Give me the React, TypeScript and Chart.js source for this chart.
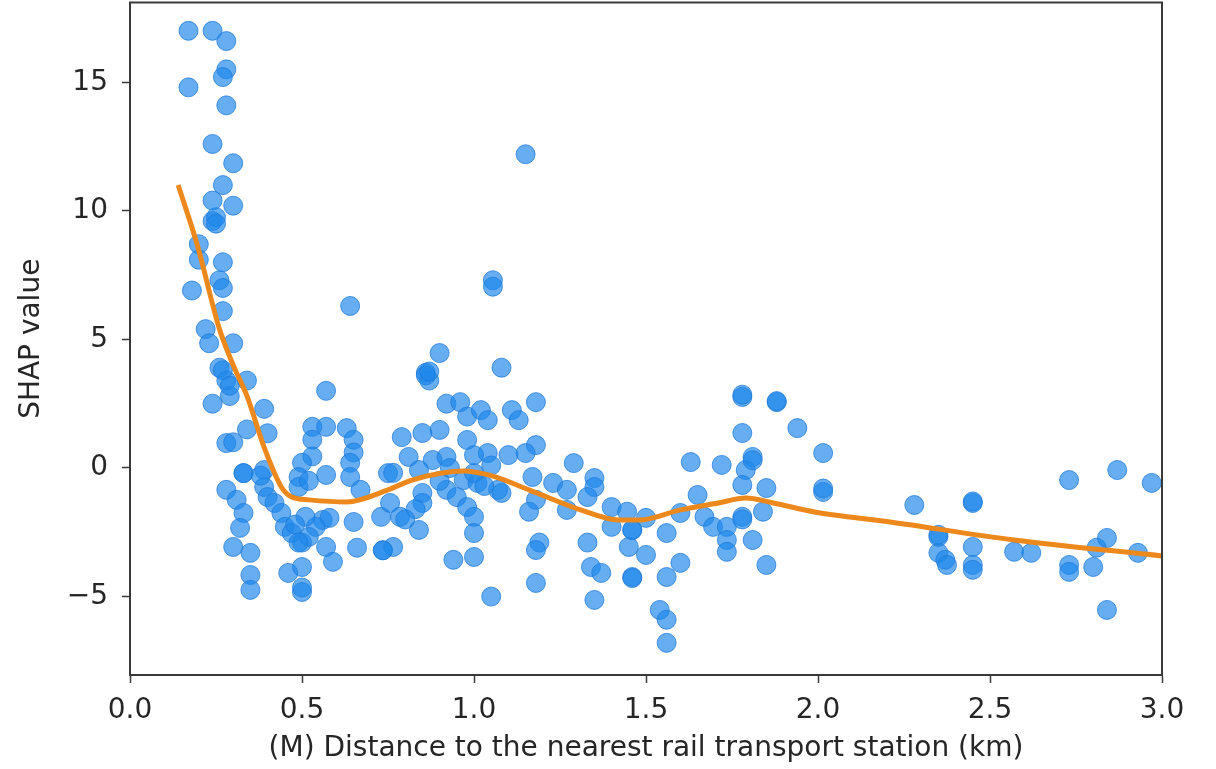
import React, { useEffect, useRef } from "react";
import { Chart, registerables } from "chart.js";

Chart.register(...registerables);

// Scatter points: distance (km) and SHAP value
const pointX: number[] = [
  0.17, 0.24, 0.28, 0.17, 0.28, 0.27, 0.28, 0.24, 0.30, 0.27, 0.24, 0.30, 0.24, 0.25, 0.25,
  0.20, 0.18, 0.27, 0.20, 0.26, 0.27, 0.27, 0.22, 0.64,
  0.23, 0.30, 0.26, 0.28, 0.34, 0.29, 0.24, 0.57, 0.39, 0.34, 0.40, 0.28, 0.53, 0.57, 0.63, 0.65,
  0.65, 0.53, 0.53, 0.57, 0.33, 0.50, 0.49, 0.49, 0.39, 0.64, 0.64, 0.67, 0.75, 0.28, 0.31, 0.33,
  0.32, 0.30, 0.35, 0.35, 0.35, 0.39, 0.40, 0.42, 0.44, 0.45, 0.47, 0.50, 0.46, 0.50, 0.50, 0.56,
  0.58, 0.57, 0.59, 0.65, 0.66, 0.735, 0.73, 0.54, 0.52,
  0.27, 0.29, 0.33, 0.50, 0.30, 0.38, 0.52, 0.51, 0.48, 0.49,
  0.90, 0.86, 0.87, 1.08, 0.92, 0.96, 0.98, 1.02, 1.04, 1.11, 1.13, 1.18, 0.79, 0.85, 0.90, 0.98,
  1.18, 1.15, 1.10, 1.04, 0.81, 0.88, 0.92, 0.765, 0.84, 0.97, 1.01, 1.08, 0.85, 0.92, 1.29, 1.35,
  1.35, 1.17, 1.23, 1.27, 1.18, 1.16, 1.27, 1.33, 1.40, 1.445, 1.40, 1.46, 0.756, 0.785, 0.85, 0.84,
  0.765, 0.735, 0.95, 0.98, 1.00, 1.00, 1.07, 0.94, 1.00, 1.19, 1.18, 1.33, 1.34, 1.37, 1.18, 1.35,
  1.05, 1.45, 1.46,
  0.86, 0.87, 1.00, 1.03, 0.83, 0.80, 0.90, 0.93, 1.00, 1.05,
  1.15, 1.055, 1.055,
  1.78, 1.88, 1.78, 1.94, 2.015, 2.015, 1.63, 1.72, 1.81, 1.79, 1.78, 1.85, 1.65, 1.60, 1.50, 1.67,
  1.695, 1.735, 1.735, 1.735, 1.78, 1.84, 1.81, 1.85, 1.56, 1.50, 1.60, 1.56, 1.46, 1.54, 1.56, 1.56,
  1.46, 1.78, 1.88, 1.81, 2.015, 1.78,
  2.28, 2.45, 2.35, 2.35, 2.37, 2.375, 2.45, 2.45, 2.45, 2.57, 2.62, 2.73, 2.73, 2.73, 2.80, 2.81,
  2.84, 2.84, 2.87, 2.93, 2.97, 2.45, 2.35,
];

const pointY: number[] = [
  17.0, 17.0, 16.6, 14.8, 15.5, 15.2, 14.1, 12.6, 11.85, 11.0, 10.4, 10.2, 9.6, 9.75, 9.5,
  8.7, 6.9, 8.0, 8.1, 7.3, 7.0, 6.1, 5.4, 6.3,
  4.85, 4.85, 3.9, 3.4, 3.4, 2.8, 2.5, 3.0, 2.3, 1.5, 1.35, 0.97, 1.6, 1.6, 1.55, 1.1,
  0.6, 1.1, 0.45, -0.27, -0.2, 0.2, -0.35, -0.74, -0.08, 0.2, -0.35, -0.85, -0.2, -0.85, -1.24, -1.75,
  -2.33, -3.07, -3.3, -4.16, -4.74, -0.74, -1.13, -1.36, -1.75, -2.29, -2.53, -2.9, -4.08, -3.85, -4.82, -2.02,
  -1.94, -3.07, -3.65, -2.1, -3.1, -3.2, -1.9, -2.29, -2.68,
  3.8, 3.2, -0.2, -4.65, 1.0, -0.3, -0.5, -1.9, -2.2, -2.9,
  4.47, 3.7, 3.4, 3.9, 2.5, 2.56, 2.0, 2.25, 1.86, 2.25, 1.86, 2.56, 1.2, 1.36, 1.48, 1.09,
  0.89, 0.58, 0.5, 0.58, 0.43, 0.31, 0.43, -0.19, -0.08, -0.47, -0.58, -0.97, -0.97, -0.85, 0.19, -0.39,
  -0.74, -0.35, -0.58, -0.85, -1.24, -1.7, -1.63, -1.13, -1.52, -1.7, -2.29, -2.41, -1.36, -1.9, -1.36, -2.41,
  -3.07, -3.2, -1.13, -1.52, -1.9, -2.53, -0.85, -3.57, -3.46, -2.9, -3.19, -2.9, -3.85, -4.08, -4.47, -5.13,
  -5.0, -3.07, -4.24,
  3.6, 3.75, -0.2, -0.7, -1.6, -2.0, -0.5, 0.0, 0.5, 0.1,
  12.2, 7.3, 7.05,
  2.76, 2.56, 1.36, 1.55, 0.58, -0.93, 0.23, 0.12, 0.43, -0.08, -0.66, -0.78, -1.05, -1.75, -1.94, -1.9,
  -2.29, -2.29, -2.8, -3.26, -1.9, -1.7, -2.8, -3.77, -2.53, -3.38, -3.69, -4.24, -4.28, -5.52, -5.9, -6.8,
  -2.41, 2.85, 2.6, 0.3, -0.8, -2.0,
  -1.44, -1.36, -2.68, -3.3, -3.57, -3.77, -3.07, -3.77, -3.96, -3.26, -3.3, -0.47, -3.77, -4.04, -3.85, -3.1,
  -2.72, -5.52, -0.08, -3.3, -0.58, -1.3, -2.6,
];

// Smoothed trend line
const trendX: number[] = [
  0.14, 0.195, 0.26, 0.30, 0.34, 0.39, 0.44, 0.47, 0.52, 0.63, 0.75, 0.82, 0.97, 1.05, 1.16, 1.31,
  1.42, 1.48, 1.60, 1.71, 1.79, 1.87, 1.99, 2.21, 2.57, 3.0,
];
const trendY: number[] = [
  11.0, 8.7, 5.4, 4.0, 2.8, 0.8, -0.74, -1.13, -1.24, -1.32, -0.85, -0.47, -0.12, -0.3, -0.85, -1.63,
  -2.02, -2.02, -1.63, -1.36, -1.17, -1.36, -1.71, -2.1, -2.8, -3.42,
];

const yTicks: number[] = [-5, 0, 5, 10, 15];
const xTitle = "(M) Distance to the nearest rail transport station (km)";
const yTitle = "SHAP value";

const FONT = "'DejaVu Sans', sans-serif";
const TEXT = "#262626";
const SPINE = "#3a3a3a";

const framePlugin = {
  id: "frame",
  afterDatasetsDraw(chart: any) {
    const { ctx, chartArea } = chart;
    ctx.save();
    ctx.strokeStyle = SPINE;
    ctx.lineWidth = 2;
    ctx.strokeRect(chartArea.left, chartArea.top, chartArea.right - chartArea.left, chartArea.bottom - chartArea.top);
    ctx.restore();
  },
};

export default function App() {
  const ref = useRef<HTMLCanvasElement | null>(null);

  useEffect(() => {
    if (!ref.current) return;
    const scatterData = pointX.map((x, i) => ({ x, y: pointY[i] }));
    const lineData = trendX.map((x, i) => ({ x, y: trendY[i] }));
    const chart = new Chart(ref.current, {
      type: "scatter",
      data: {
        datasets: [
          {
            type: "line",
            data: lineData,
            borderColor: "rgb(236, 136, 28)",
            borderWidth: 5,
            pointRadius: 0,
            fill: false,
            cubicInterpolationMode: "monotone",
            order: 0,
            clip: 0,
          } as any,
          {
            data: scatterData,
            backgroundColor: "rgba(30, 136, 235, 0.68)",
            borderColor: "rgba(30, 120, 215, 0.75)",
            borderWidth: 1,
            pointRadius: 9.5,
            pointHoverRadius: 9.5,
            order: 1,
            clip: 0,
          },
        ],
      },
      options: {
        animation: false,
        responsive: true,
        maintainAspectRatio: false,
        layout: { padding: { top: 2, right: 54, left: 0, bottom: 0 } },
        plugins: { legend: { display: false }, tooltip: { enabled: false } },
        scales: {
          x: {
            type: "linear",
            min: 0,
            max: 3,
            afterFit: (s: any) => {
              s.height = 94;
              s.paddingLeft = 0;
              s.paddingRight = 0;
            },
            ticks: {
              stepSize: 0.5,
              padding: 11,
              color: TEXT,
              font: { family: FONT, size: 28 },
              maxRotation: 0,
              callback: (v: any) => Number(v).toFixed(1),
            },
            grid: {
              display: true,
              drawOnChartArea: false,
              drawTicks: true,
              tickLength: 8,
              tickColor: SPINE,
              tickWidth: 1.5,
            },
            border: { display: true, color: SPINE, width: 2 },
            title: {
              display: true,
              text: xTitle,
              color: TEXT,
              font: { family: FONT, size: 28 },
              padding: { top: 0, bottom: 3 },
            },
          },
          y: {
            type: "linear",
            min: -8.05,
            max: 18.1,
            afterFit: (s: any) => {
              s.width = 130;
              s.paddingTop = 0;
              s.paddingBottom = 0;
            },
            afterBuildTicks: (s: any) => {
              s.ticks = yTicks.map((v) => ({ value: v }));
            },
            ticks: {
              padding: 14,
              color: TEXT,
              font: { family: FONT, size: 28 },
              callback: (v: any) => (Number(v) < 0 ? "\u2212" + Math.abs(Number(v)) : String(v)),
            },
            grid: {
              display: true,
              drawOnChartArea: false,
              drawTicks: true,
              tickLength: 8,
              tickColor: SPINE,
              tickWidth: 1.5,
            },
            border: { display: true, color: SPINE, width: 2 },
            title: {
              display: true,
              text: yTitle,
              color: TEXT,
              font: { family: FONT, size: 28 },
              padding: { top: 15, bottom: 0 },
            },
          },
        },
      },
      plugins: [framePlugin],
    });
    return () => chart.destroy();
  }, []);

  return (
    <div style={{ position: "fixed", left: 0, top: -8, width: 1216, height: 777, background: "#fff" }}>
      <canvas ref={ref} />
    </div>
  );
}
